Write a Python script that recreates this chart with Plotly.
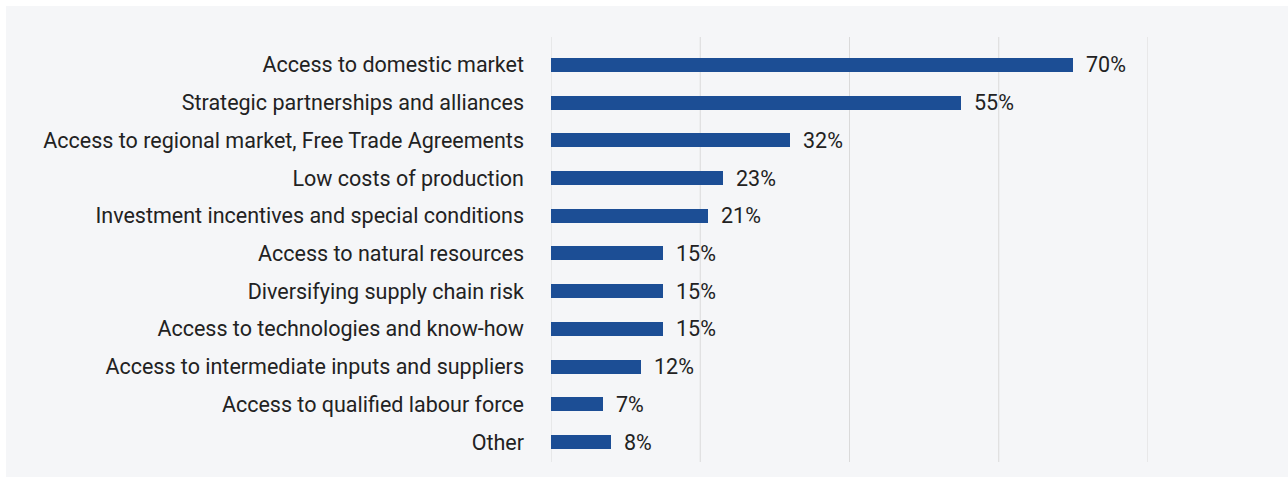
import plotly.graph_objects as go

categories = [
    "Access to domestic market",
    "Strategic partnerships and alliances",
    "Access to regional market, Free Trade Agreements",
    "Low costs of production",
    "Investment incentives and special conditions",
    "Access to natural resources",
    "Diversifying supply chain risk",
    "Access to technologies and know-how",
    "Access to intermediate inputs and suppliers",
    "Access to qualified labour force",
    "Other",
]
shares = [70, 55, 32, 23, 21, 15, 15, 15, 12, 7, 8]
x_ticks = [0, 20, 40, 60, 80]

W, H = 1288, 477
ML, MR, MT, MB = 551, 140, 37, 15
PW, PH = W - ML - MR, H - MT - MB

BAR = "#1c4e95"
PANEL = "#f5f6f8"
TEXT = "#222222"
GRID = "#dadada"
FS = 21.5

fig = go.Figure(
    go.Bar(
        x=shares,
        y=list(range(len(categories))),
        orientation="h",
        width=0.37,
        marker=dict(color=BAR, line=dict(width=0)),
        hoverinfo="skip",
    )
)

# value labels to the right of each bar
for i, v in enumerate(shares):
    fig.add_annotation(
        x=v, y=i, text=f"{v}%", showarrow=False,
        xanchor="left", yanchor="middle", xshift=11,
        font=dict(family="Roboto", size=FS, color=TEXT),
    )

# light panel behind the chart, leaving a thin white edge top/left
fig.add_shape(
    type="rect", xref="paper", yref="paper", layer="below",
    x0=(6 - ML) / PW, x1=(W + 5 - ML) / PW,
    y0=((H - MB) - (H + 5)) / PH, y1=((H - MB) - 6) / PH,
    fillcolor=PANEL, line=dict(width=0),
)

# vertical grid lines, including both ends of the axis
for t in x_ticks:
    fig.add_shape(
        type="line", xref="x", yref="paper", layer="below",
        x0=t, x1=t, y0=0, y1=1,
        line=dict(color=GRID, width=1),
    )

fig.update_layout(
    width=W, height=H,
    margin=dict(l=ML, r=MR, t=MT, b=MB, pad=0),
    paper_bgcolor="white",
    plot_bgcolor="rgba(0,0,0,0)",
    showlegend=False,
    bargap=0,
    font=dict(family="Roboto", size=FS, color=TEXT),
    xaxis=dict(
        range=[0, 80], showticklabels=False,
        showgrid=False, zeroline=False, showline=False, fixedrange=True,
    ),
    yaxis=dict(
        range=[10.53, -0.74],
        tickvals=list(range(len(categories))), ticktext=categories,
        showgrid=False, zeroline=False, showline=False,
        ticks="", ticklabelstandoff=26,
        tickfont=dict(family="Roboto", size=FS, color=TEXT),
    ),
)

fig.write_html("out.html")
